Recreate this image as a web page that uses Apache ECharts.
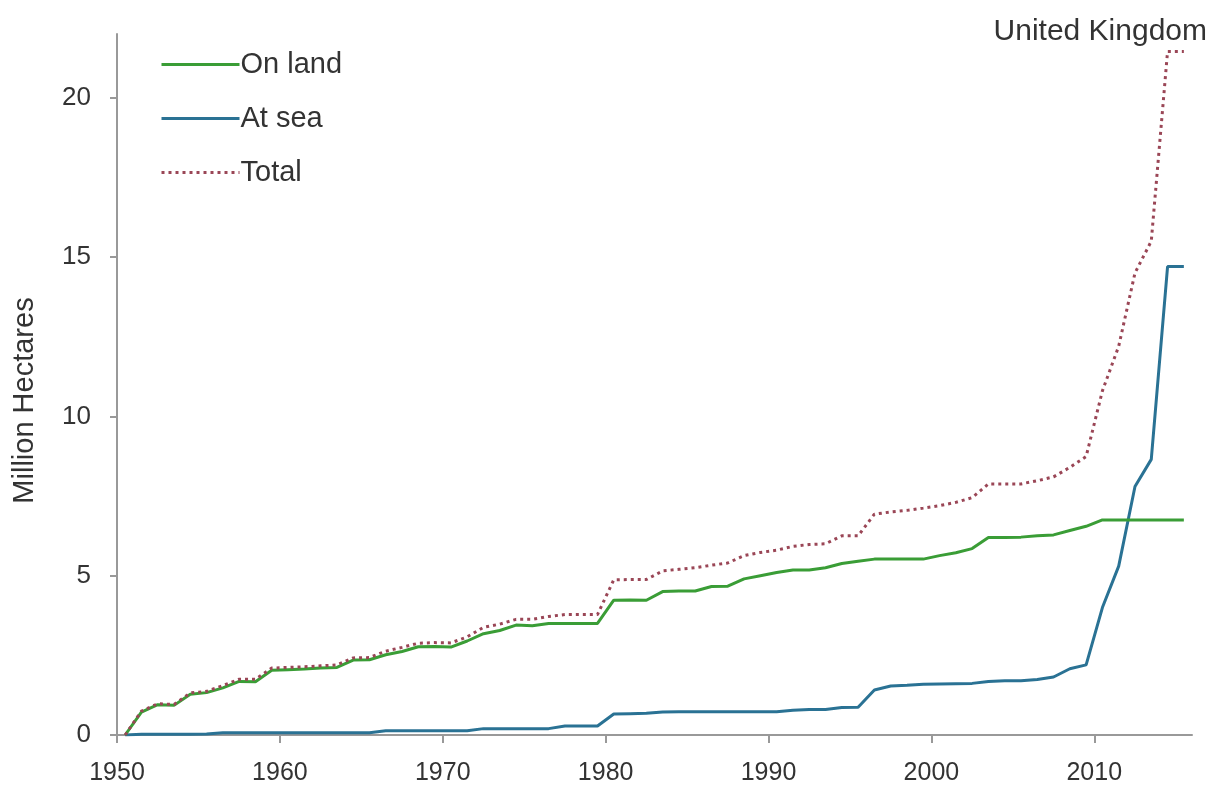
<!DOCTYPE html>
<html>
<head>
<meta charset="utf-8">
<script src="https://cdn.jsdelivr.net/npm/echarts@6/dist/echarts.min.js"></script>
<style>
  html, body { margin: 0; padding: 0; background: #fff; }
  #chart { width: 1220px; height: 787px; }
</style>
</head>
<body>
<div id="chart"></div>
<script>
// years: each annual point is drawn at mid-year
var years = [];
for (var y = 1950; y <= 2015; y++) years.push(y);

var onLand = [
  0, 0.72, 0.95, 0.93, 1.28, 1.33, 1.48, 1.68, 1.67, 2.03,
  2.05, 2.07, 2.1, 2.12, 2.35, 2.36, 2.52, 2.62, 2.77, 2.78,
  2.76, 2.95, 3.18, 3.28, 3.45, 3.43, 3.5, 3.5, 3.5, 3.5,
  4.23, 4.24, 4.23, 4.5, 4.52, 4.52, 4.66, 4.67, 4.9, 5.0,
  5.1, 5.18, 5.18, 5.25, 5.38, 5.45, 5.52, 5.52, 5.52, 5.52,
  5.63, 5.72, 5.85, 6.2, 6.2, 6.21, 6.25, 6.28, 6.42, 6.55,
  6.75, 6.75, 6.75, 6.75, 6.75, 6.75
];

var atSea = [
  0, 0.02, 0.02, 0.02, 0.02, 0.03, 0.07, 0.07, 0.07, 0.07,
  0.07, 0.07, 0.07, 0.07, 0.07, 0.07, 0.13, 0.13, 0.13, 0.13,
  0.13, 0.13, 0.2, 0.2, 0.2, 0.2, 0.2, 0.28, 0.28, 0.28,
  0.66, 0.67, 0.68, 0.72, 0.73, 0.73, 0.73, 0.73, 0.73, 0.73,
  0.73, 0.78, 0.8, 0.8, 0.86, 0.87, 1.41, 1.54, 1.56, 1.59,
  1.6, 1.61, 1.62, 1.68, 1.7, 1.7, 1.74, 1.82, 2.08, 2.2,
  4.0, 5.3, 7.8, 8.65, 14.7, 14.7
];

var total = [
  0, 0.75, 0.98, 0.96, 1.32, 1.37, 1.55, 1.75, 1.75, 2.1,
  2.12, 2.14, 2.17, 2.2, 2.42, 2.43, 2.63, 2.75, 2.88, 2.9,
  2.89, 3.08, 3.38, 3.48, 3.63, 3.63, 3.72, 3.78, 3.78, 3.78,
  4.87, 4.88, 4.88, 5.15, 5.2, 5.25, 5.33, 5.4, 5.63, 5.73,
  5.8, 5.92, 5.98, 6.0, 6.25, 6.25, 6.93, 7.0, 7.05, 7.12,
  7.2, 7.3, 7.45, 7.88, 7.88, 7.88, 7.98, 8.1, 8.4, 8.74,
  10.8, 12.2, 14.5, 15.5, 21.45, 21.45
];

var xTicks = [1950, 1960, 1970, 1980, 1990, 2000, 2010];
var yTicks = [0, 5, 10, 15, 20];

function pairs(vals) {
  return years.map(function (yr, i) { return [yr + 0.5, vals[i]]; });
}

var chart = echarts.init(document.getElementById('chart'));
var font = 'Liberation Sans, Arial, sans-serif';

chart.setOption({
  animation: false,
  backgroundColor: '#fff',
  title: {
    text: 'United Kingdom',
    right: 8,
    top: 12,
    textStyle: { fontFamily: font, fontSize: 30, fontWeight: 'normal', color: '#333' }
  },
  legend: {
    orient: 'vertical',
    left: 155,
    top: 45,
    itemWidth: 78,
    itemHeight: 14,
    itemGap: 25,
    lineStyle: { width: 3 },
    textStyle: { fontFamily: font, fontSize: 29, color: '#333', lineHeight: 29, padding: [0, 0, 0, -4] },
    data: ['On land', 'At sea', 'Total']
  },
  grid: { left: 117, right: 28, top: 34, bottom: 52 },
  xAxis: {
    type: 'value',
    min: 1950,
    max: 2016,
    splitLine: { show: false },
    axisLine: { lineStyle: { color: '#999', width: 2 } },
    axisTick: { customValues: xTicks, length: 8, lineStyle: { color: '#999', width: 2 } },
    axisLabel: {
      customValues: xTicks,
      margin: 26,
      fontFamily: font,
      fontSize: 25,
      color: '#333',
      formatter: function (v) { return String(v); }
    }
  },
  yAxis: {
    type: 'value',
    min: 0,
    max: 22,
    name: 'Million Hectares',
    nameLocation: 'middle',
    nameGap: 78,
    nameTextStyle: { fontFamily: font, fontSize: 29, color: '#333', padding: [0, 32, 0, 0] },
    splitLine: { show: false },
    axisLine: { show: true, lineStyle: { color: '#999', width: 2 } },
    axisTick: { show: true, customValues: yTicks, length: 7, lineStyle: { color: '#999', width: 2 } },
    axisLabel: {
      customValues: yTicks,
      margin: 26,
      fontFamily: font,
      fontSize: 26,
      color: '#333'
    }
  },
  series: [
    {
      name: 'On land',
      type: 'line',
      symbol: 'none',
      data: pairs(onLand),
      lineStyle: { color: '#3a9d36', width: 3 },
      itemStyle: { color: 'rgba(0,0,0,0)' },
      z: 3
    },
    {
      name: 'At sea',
      type: 'line',
      symbol: 'none',
      data: pairs(atSea),
      lineStyle: { color: '#2a7294', width: 3 },
      itemStyle: { color: 'rgba(0,0,0,0)' },
      z: 2
    },
    {
      name: 'Total',
      type: 'line',
      symbol: 'none',
      data: pairs(total),
      lineStyle: { color: '#9a4656', width: 3, type: [3, 4] },
      itemStyle: { color: 'rgba(0,0,0,0)' },
      z: 4
    }
  ]
});
</script>
</body>
</html>
